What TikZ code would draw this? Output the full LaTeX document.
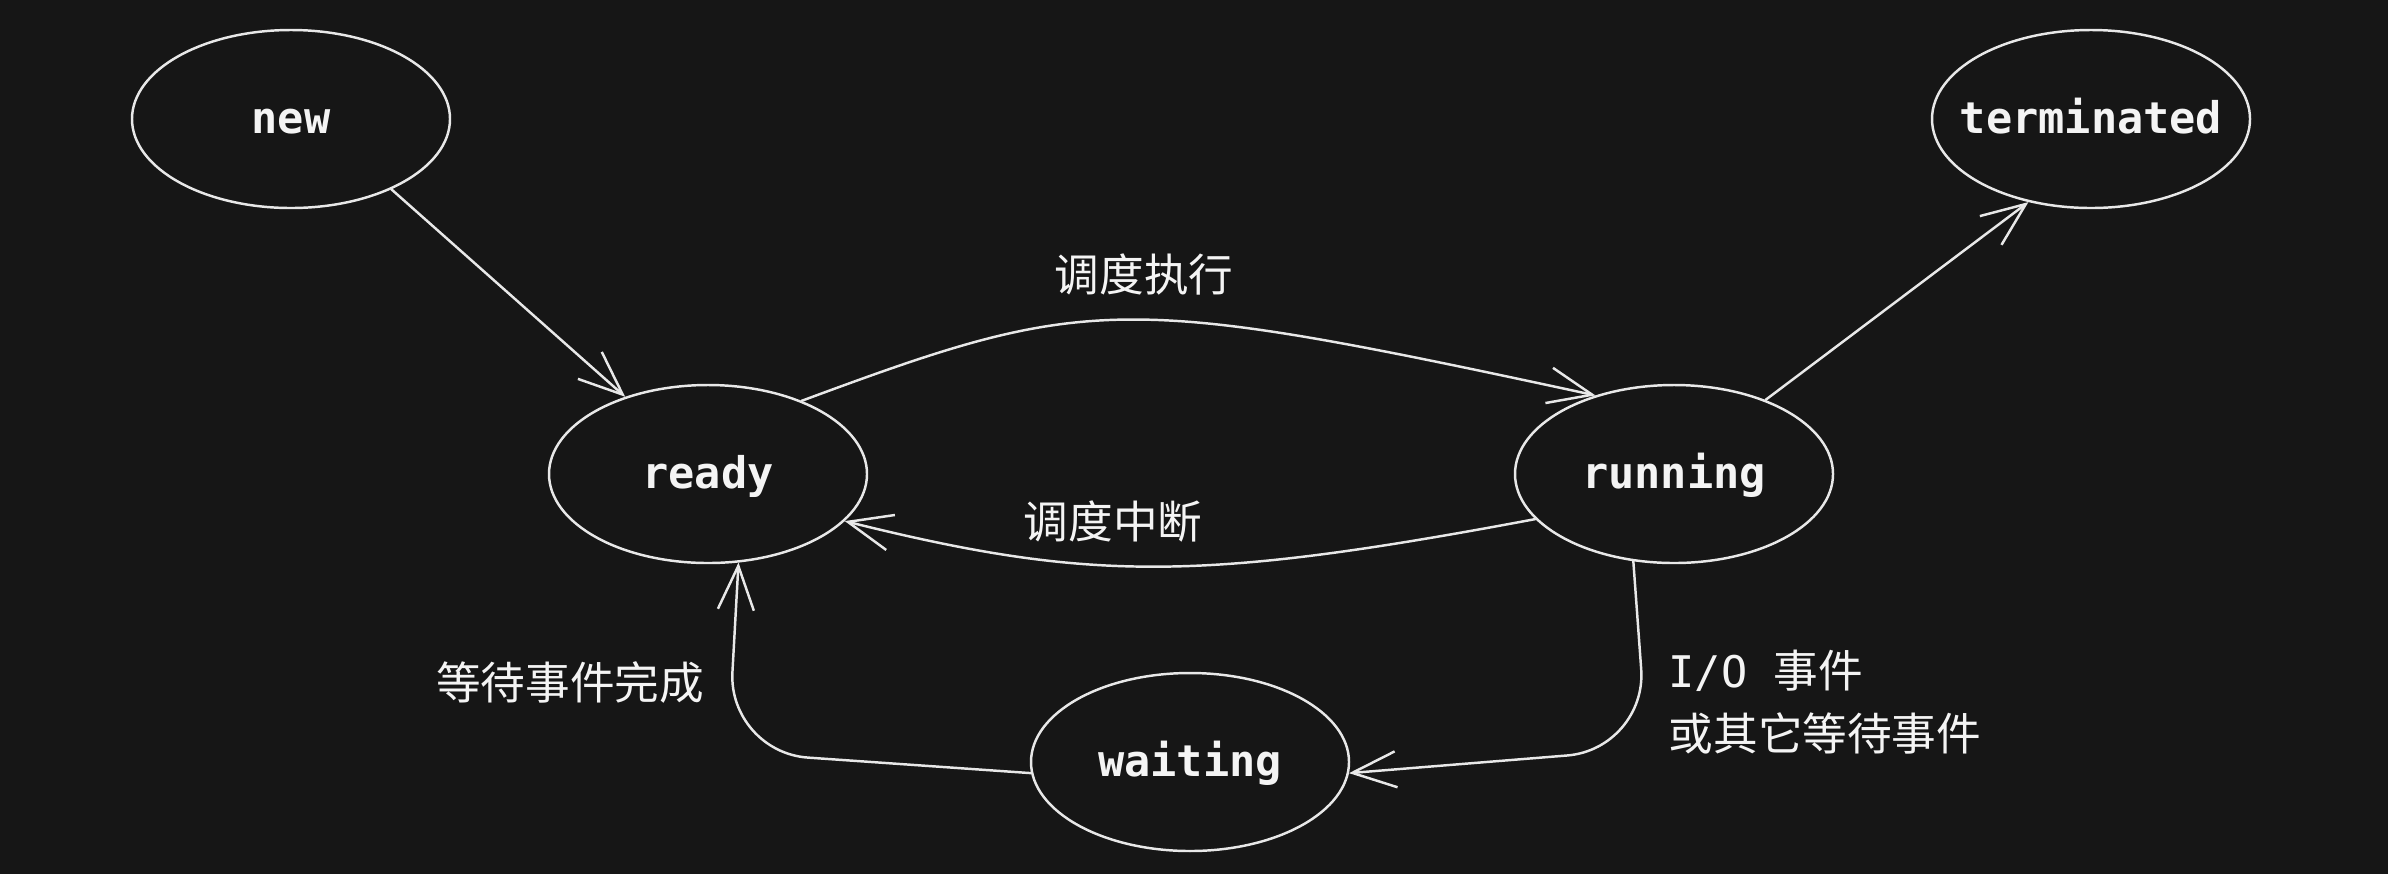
\documentclass[tikz,border=0pt]{standalone}
\usepackage{fontspec}
\setmonofont{DejaVu Sans Mono}
\newfontfamily\cjkfont{Noto Sans CJK SC}
\usetikzlibrary{arrows.meta, calc, positioning, shapes.geometric}
\definecolor{paper}{HTML}{161616}
\definecolor{ink}{HTML}{F4F4F4}
\definecolor{line}{HTML}{E8E8E8}

\begin{document}
\begin{tikzpicture}[
    flow/.style={
      draw=line,
      line width=0.7pt,
      -{Straight Barb[length=4.4mm,width=3.6mm]},
      line cap=round,
      line join=round,
    },
    phase/.style={
      ellipse,
      draw=line,
      line width=0.7pt,
      minimum width=3.18cm,
      minimum height=1.78cm,
      inner xsep=-6mm,
      inner ysep=0pt,
      text height=8.5pt,
      text depth=0pt,
      text=ink,
      font=\ttfamily\bfseries\fontsize{12.4}{14}\selectfont,
    },
    edgetext/.style={
      text=ink,
      inner sep=0pt,
      font=\cjkfont\fontsize{12.7}{17.7}\selectfont,
    },
  ]

  % Canvas
  \useasboundingbox (0,0) rectangle (23.88,-8.74);
  \fill[paper] (0,0) rectangle (23.88,-8.74);

  % Process states
  \node[phase] (new) at (2.91,-1.19) {new};
  \node[phase] (ready) at (7.08,-4.74) {ready};
  \node[phase] (running) at (16.74,-4.74) {running};
  \node[phase] (terminated) at (20.91,-1.19) {terminated};
  \node[phase] (waiting) at (11.90,-7.62) {waiting};

  % Bends of the waiting loop
  \coordinate (iobend) at (16.47,-7.49);
  \coordinate (backbend) at (7.28,-7.52);

  % Transitions
  \draw[flow] (new.-35) -- (ready.137);
  \draw[flow] (ready.38) .. controls (10.9,-2.94) and (11.2,-2.93) .. (running.135);
  \draw[flow] (running.198) .. controls (12.0,-5.82) and (10.9,-5.82) .. (ready.-19);
  \draw[flow] (running.39) -- (terminated.233);
  \draw[flow, rounded corners=8mm] (running.245) -- (iobend) -- (waiting.-4);
  \draw[flow, rounded corners=8mm] (waiting.184) -- (backbend) -- (ready.289);

  % Transition labels
  \node[edgetext] (dispatch) at (11.44,-2.74) {调度执行};
  \node[edgetext] (interrupt) at (11.13,-5.22) {调度中断};
  \node[edgetext] (wakeup) at (5.70,-6.82) {等待事件完成};
  \node[edgetext, anchor=west, align=left] (iowait) at (16.68,-7.02)
    {{\ttfamily\fontsize{12.4}{17.7}\selectfont I/O }事件\\或其它等待事件};

\end{tikzpicture}
\end{document}
